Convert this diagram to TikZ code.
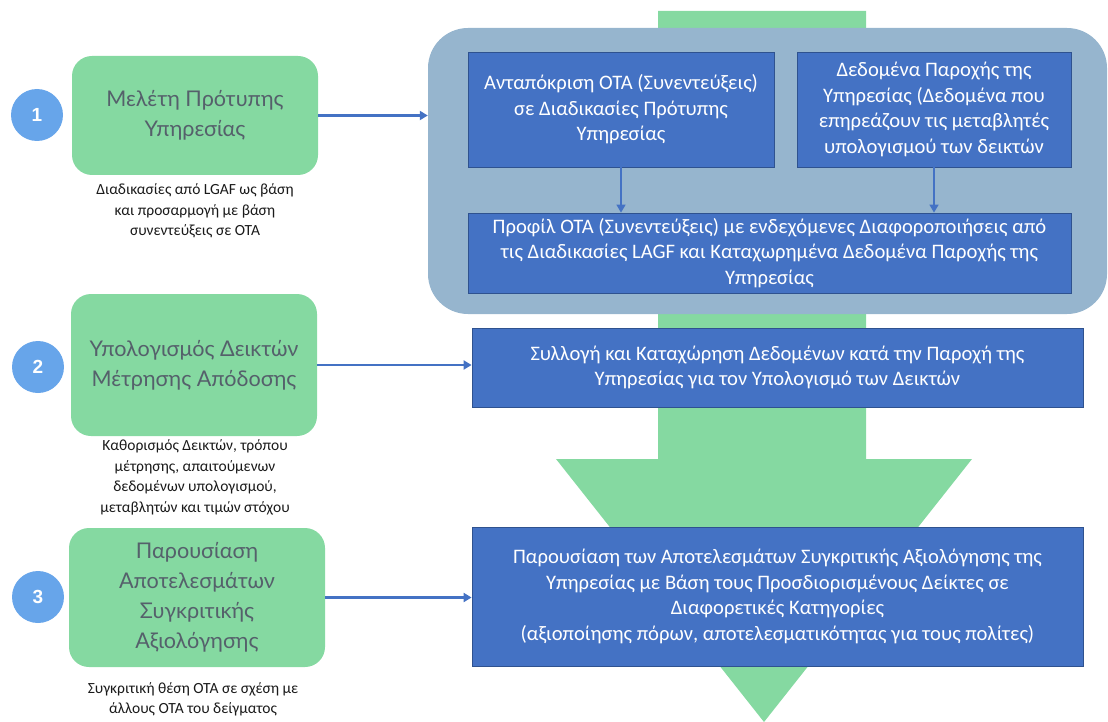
\documentclass[tikz,border=0pt]{standalone}
\usepackage{fontspec}
\setmainfont{Carlito}
\newfontfamily\latofont{Lato}
\newfontfamily\dotfont{Liberation Sans}
\usetikzlibrary{arrows.meta}

\definecolor{flowgreen}{HTML}{85D9A1}
\definecolor{panelblue}{HTML}{96B5CE}
\definecolor{boxblue}{HTML}{4472C4}
\definecolor{boxedge}{HTML}{2F528F}
\definecolor{stepdot}{HTML}{67A5EA}
\definecolor{steptext}{HTML}{55606B}
\definecolor{notetext}{HTML}{1A1A1A}

\tikzset{
  stagebox/.style={fill=flowgreen, draw=none, rounded corners=20pt, align=center,
    text=steptext, inner sep=0pt, font=\latofont\fontsize{21.6}{30}\selectfont},
  stepdot/.style={circle, fill=stepdot, minimum size=52pt, inner sep=0pt,
    text=white, font=\dotfont\bfseries\fontsize{19}{24}\selectfont},
  taskbox/.style={fill=boxblue, draw=boxedge, line width=0.8pt, align=center,
    text=white, inner sep=0pt, font=\fontsize{20.6}{25.5}\selectfont},
  note/.style={align=center, text=notetext, inner sep=0pt,
    font=\fontsize{15.5}{20.5}\selectfont},
  link/.style={draw=boxblue, line width=2.2pt,
    -{Triangle[length=8pt,width=9pt]}},
}

\begin{document}
\begin{tikzpicture}[x=1pt,y=-1pt]
\useasboundingbox (0,0) rectangle (1108,722);

% broad flow arrow running down behind the panels
\fill[flowgreen] (658,11) -- (866,11) -- (866,459) -- (972,459) -- (764,722)
  -- (556,459) -- (658,459) -- cycle;

% light panel grouping the first stage's tasks
\node[fill=panelblue, rounded corners=40pt, minimum width=679pt,
  minimum height=286pt, inner sep=0pt] (panel) at (767.5,171) {};

% numbered stages
\node[stepdot] (n1) at (37,115) {1};
\node[stepdot] (n2) at (38,367) {2};
\node[stepdot] (n3) at (38,597) {3};

\node[stagebox, minimum width=246pt, minimum height=119pt] (s1) at (195,115.5)
  {Μελέτη Πρότυπης\\Υπηρεσίας};
\node[stagebox, minimum width=246pt, minimum height=142pt] (s2) at (194,365)
  {Υπολογισμός Δεικτών\\Μέτρησης Απόδοσης};
\node[stagebox, minimum width=256pt, minimum height=139pt] (s3) at (197,597.5)
  {Παρουσίαση\\Αποτελεσμάτων\\Συγκριτικής\\Αξιολόγησης};

% notes under the stages
\node[note] (c1) at (195,211)
  {Διαδικασίες από LGAF ως βάση\\και προσαρμογή με βάση\\συνεντεύξεις σε ΟΤΑ};
\node[note] (c2) at (195,477.5)
  {Καθορισμός Δεικτών, τρόπου\\μέτρησης, απαιτούμενων\\δεδομένων υπολογισμού,\\μεταβλητών και τιμών στόχου};
\node[note] (c3) at (193,699.5)
  {Συγκριτική θέση ΟΤΑ σε σχέση με\\άλλους ΟΤΑ του δείγματος};

% tasks
\node[taskbox, minimum width=306pt, minimum height=115pt] (ta) at (621,109.5)
  {Ανταπόκριση ΟΤΑ (Συνεντεύξεις)\\σε Διαδικασίες Πρότυπης\\Υπηρεσίας};
\node[taskbox, minimum width=274pt, minimum height=115pt] (tb) at (934,109.5)
  {Δεδομένα Παροχής της\\Υπηρεσίας (Δεδομένα που\\επηρεάζουν τις μεταβλητές\\υπολογισμού των δεικτών};
\node[taskbox, minimum width=603pt, minimum height=80pt] (tc) at (769.5,253)
  {Προφίλ ΟΤΑ (Συνεντεύξεις) με ενδεχόμενες Διαφοροποιήσεις από\\τις Διαδικασίες LAGF και Καταχωρημένα Δεδομένα Παροχής της\\Υπηρεσίας};
\node[taskbox, minimum width=611pt, minimum height=79pt] (td) at (777.5,367.5)
  {Συλλογή και Καταχώρηση Δεδομένων κατά την Παροχή της\\Υπηρεσίας για τον Υπολογισμό των Δεικτών};
\node[taskbox, minimum width=611pt, minimum height=139pt] (te) at (777.5,596.5)
  {Παρουσίαση των Αποτελεσμάτων Συγκριτικής Αξιολόγησης της\\Υπηρεσίας με Βάση τους Προσδιορισμένους Δείκτες σε\\Διαφορετικές Κατηγορίες\\(αξιοποίησης πόρων, αποτελεσματικότητας για τους πολίτες)};

% connectors
\draw[link] (s1.east) -- (s1.east -| panel.west);
\draw[link] (s2.east) -- (s2.east -| td.west);
\draw[link] (s3.east) -- (s3.east -| te.west);
\draw[link, line width=1.6pt] (ta.south) -- (ta.south |- tc.north);
\draw[link, line width=1.6pt] (tb.south) -- (tb.south |- tc.north);
\end{tikzpicture}
\end{document}
